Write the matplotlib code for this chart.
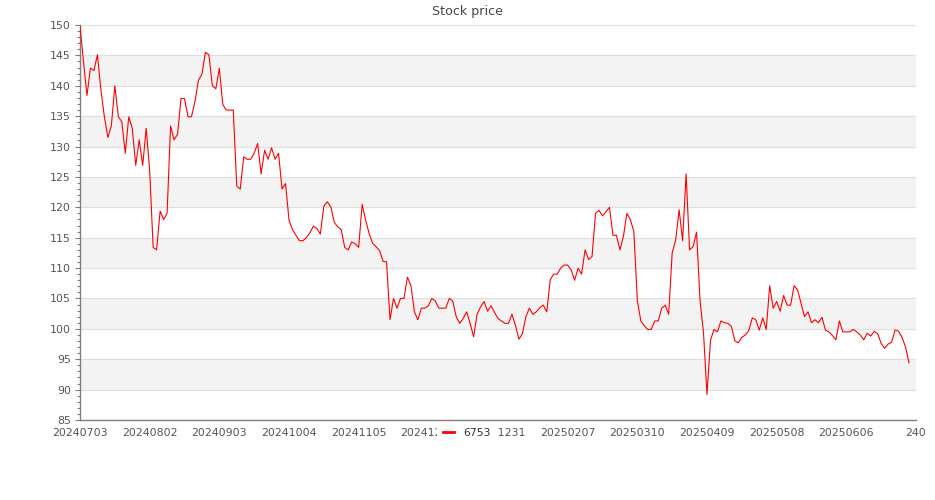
import matplotlib
matplotlib.use("Agg")
import matplotlib.pyplot as plt
from matplotlib.patches import Rectangle
from matplotlib.ticker import MultipleLocator

# daily closing prices (one per trading day)
prices = [
    149.8, 144.0, 138.4, 142.9, 142.5, 145.1, 139.3, 134.9, 131.5, 133.4,
    140.0, 134.9, 134.1, 128.9, 134.9, 133.0, 126.9, 131.1, 126.9, 133.0,
    126.1, 113.4, 113.0, 119.4, 118.0, 119.0, 133.4, 131.1, 132.0, 137.9,
    137.9, 134.9, 134.9, 137.4, 140.9, 141.9, 145.5, 145.1, 140.0, 139.5,
    142.9, 136.9, 136.0, 136.0, 136.0, 123.5, 123.0, 128.3, 127.9, 127.9,
    128.9, 130.5, 125.5, 129.4, 127.9, 129.8, 127.9, 128.9, 123.0, 123.9,
    117.9, 116.3, 115.4, 114.5, 114.5, 115.0, 115.8, 116.9, 116.5, 115.6,
    120.2, 120.9, 120.1, 117.5, 116.8, 116.3, 113.4, 113.0, 114.3, 114.0,
    113.4, 120.5, 117.9, 115.7, 114.1, 113.5, 112.9, 111.1, 111.0, 101.5,
    105.0, 103.4, 105.0, 105.0, 108.5, 107.1, 102.8, 101.5, 103.4, 103.4,
    103.8, 105.0, 104.6, 103.4, 103.4, 103.4, 105.0, 104.6, 102.0, 100.9,
    101.7, 102.8, 100.9, 98.7, 102.4, 103.6, 104.5, 102.9, 103.8, 102.7,
    101.7, 101.3, 100.9, 100.9, 102.4, 100.6, 98.3, 99.2, 102.0, 103.4,
    102.4, 102.8, 103.5, 103.9, 102.8, 108.1, 109.0, 109.0, 110.0, 110.5,
    110.5, 109.7, 108.0, 110.0, 109.0, 113.0, 111.4, 111.9, 119.0, 119.5,
    118.6, 119.3, 120.0, 115.4, 115.4, 113.0, 115.2, 119.0, 118.0, 116.0,
    104.7, 101.3, 100.5, 99.9, 99.9, 101.3, 101.3, 103.4, 103.9, 102.4,
    112.5, 114.6, 119.6, 114.5, 125.5, 113.0, 113.5, 115.9, 104.7, 99.3,
    89.2, 98.1, 99.9, 99.5, 101.3, 101.0, 100.9, 100.4, 98.0, 97.7,
    98.6, 99.0, 99.7, 101.8, 101.5, 99.8, 101.8, 99.9, 107.1, 103.4,
    104.5, 102.9, 105.5, 103.9, 103.9, 107.1, 106.4, 104.2, 102.0, 102.8,
    101.0, 101.5, 101.0, 101.9, 99.8, 99.5, 98.9, 98.2, 101.3, 99.5,
    99.5, 99.5, 99.9, 99.5, 99.0, 98.2, 99.3, 98.8, 99.6, 99.2,
    97.6, 96.8, 97.5, 97.8, 99.8, 99.6, 98.6, 97.0, 94.4,
]

n_days = 241  # categories on the x axis (last two have no price)
tick_step = 20
tick_labels = ["20240703", "20240802", "20240903", "20241004", "20241105",
               "20241203", "20241231", "20250207", "20250310", "20250409",
               "20250508", "20250606", "240"]
series_name = "6753"
y_min, y_max, y_step = 85, 150, 5

fig = plt.figure(figsize=(9.35, 5.0), dpi=100)
ax = fig.add_axes([80 / 935, 80 / 500, 836 / 935, 395 / 500])

# alternating split areas and grid lines
for k, lo in enumerate(range(y_min, y_max, y_step)):
    if k % 2 == 1:
        ax.axhspan(lo, lo + y_step, color="#f3f3f3", lw=0, zorder=0)
ax.yaxis.grid(True, color="#e0e0e0", lw=0.9, zorder=1)
ax.set_axisbelow(True)

ax.plot(range(len(prices)), prices, color="#ff0000", lw=0.8, zorder=3)

ax.set_xlim(0, n_days - 1)
ax.set_ylim(y_min, y_max)
ax.set_xticks(range(0, n_days, tick_step))
ax.set_xticklabels(tick_labels)
ax.set_yticks(range(y_min, y_max + 1, y_step))
ax.yaxis.set_minor_locator(MultipleLocator(1))

axis_col = "#7f7f7f"
label_col = "#555555"
for side in ["top", "right"]:
    ax.spines[side].set_visible(False)
for side in ["left", "bottom"]:
    ax.spines[side].set_color(axis_col)
    ax.spines[side].set_linewidth(1.0)

ax.tick_params(axis="x", length=0, pad=5.5, labelsize=7.9, labelcolor=label_col)
ax.tick_params(axis="y", which="major", length=3.6, width=0.8, color=axis_col,
               pad=3, labelsize=7.9, labelcolor=label_col)
ax.tick_params(axis="y", which="minor", length=2.2, width=0.8, color=axis_col)

fig.text(467 / 935, 1 - 15 / 500, "Stock price", ha="center", va="baseline",
         fontsize=9.1, color="#464646")

# white box under the legend hides the x labels behind it, as in the original
fig.add_artist(Rectangle((437 / 935, 1 - 443 / 500), 61 / 935, 20 / 500,
                         transform=fig.transFigure, facecolor="white",
                         edgecolor="none", zorder=4))

leg = fig.legend(handles=ax.lines, labels=[series_name], loc="center",
                 bbox_to_anchor=(467 / 935, 1 - 433 / 500), frameon=False,
                 fontsize=7.8, handlelength=1.05, handletextpad=0.85,
                 borderpad=0.3, borderaxespad=0)
leg.set_zorder(5)
leg.legend_handles[0].set_linewidth(2.0)
for t in leg.get_texts():
    t.set_color("#333333")

fig.savefig("out.png", dpi=100)
